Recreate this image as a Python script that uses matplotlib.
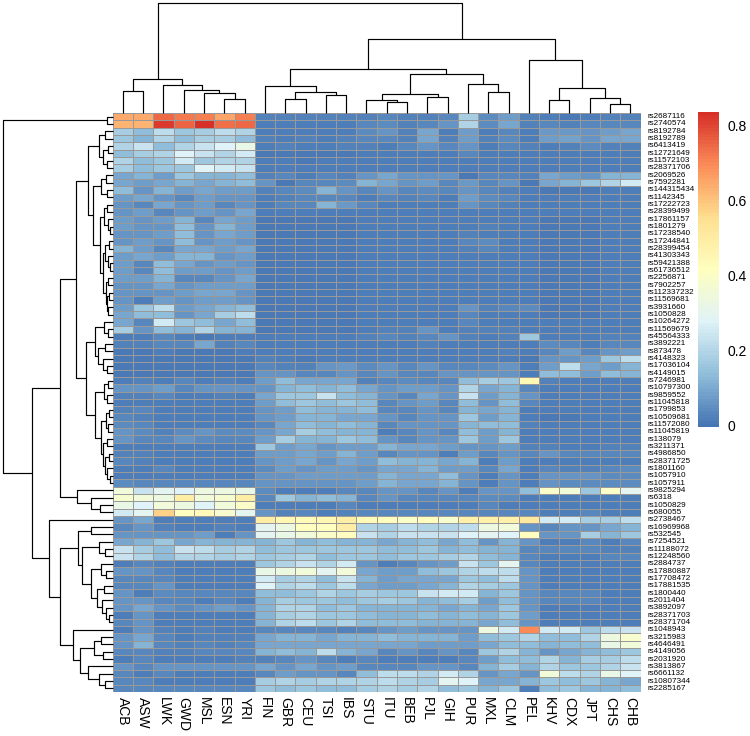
import numpy as np
import matplotlib
matplotlib.use("Agg")
import matplotlib.pyplot as plt
from matplotlib.colors import LinearSegmentedColormap
from matplotlib.transforms import blended_transform_factory

populations = ["ACB", "ASW", "LWK", "GWD", "MSL", "ESN", "YRI", "FIN", "GBR", "CEU",
               "TSI", "IBS", "STU", "ITU", "BEB", "PJL", "GIH", "PUR", "MXL", "CLM",
               "PEL", "KHV", "CDX", "JPT", "CHS", "CHB"]

snps = ["rs2687116", "rs2740574", "rs8192784", "rs8192789", "rs6413419", "rs12721649",
        "rs11572103", "rs28371706", "rs2069526", "rs7592281", "rs144315434", "rs1142345",
        "rs17222723", "rs28399499", "rs17861157", "rs1801279", "rs17238540", "rs17244841",
        "rs28399454", "rs41303343", "rs59421388", "rs61736512", "rs2256871", "rs7902257",
        "rs112337232", "rs11569681", "rs3931660", "rs1050828", "rs10264272", "rs11569679",
        "rs45564333", "rs3892221", "rs873478", "rs4148323", "rs17036104", "rs4149015",
        "rs7246981", "rs10797300", "rs9859552", "rs11045818", "rs1799853", "rs10509681",
        "rs11572080", "rs11045819", "rs138079", "rs3211371", "rs4986850", "rs28371725",
        "rs1801160", "rs1057910", "rs1057911", "rs9825294", "rs6318", "rs1050829",
        "rs680055", "rs2738467", "rs16969968", "rs532545", "rs7254521", "rs11188072",
        "rs12248560", "rs2884737", "rs17880887", "rs17708472", "rs17881535", "rs1800440",
        "rs2011404", "rs3892097", "rs28371703", "rs28371704", "rs1048943", "rs3215983",
        "rs4646491", "rs4149056", "rs2031920", "rs3813867", "rs6661132", "rs10807344",
        "rs2285167"]

values = [
 [.65,.65,.75,.73,.72,.66,.72,.03,.03,.03,.03,.03,.03,.04,.03,.03,.04,.18,.05,.08,.03,.02,.01,.02,.03,.03],
 [.63,.63,.82,.76,.84,.74,.75,.02,.02,.02,.02,.02,.04,.05,.03,.04,.06,.20,.05,.10,.03,.04,.03,.04,.04,.04],
 [.18,.14,.22,.16,.18,.22,.20,.02,.02,.02,.02,.02,.05,.06,.03,.10,.02,.08,.02,.04,.02,.07,.07,.06,.08,.10],
 [.16,.12,.20,.14,.18,.18,.14,.03,.02,.03,.02,.03,.04,.04,.03,.10,.03,.08,.03,.05,.02,.08,.09,.06,.10,.10],
 [.20,.24,.14,.20,.24,.28,.32,.02,.03,.02,.02,.03,.03,.02,.04,.06,.04,.06,.02,.04,.03,.02,.03,.05,.03,.03],
 [.14,.18,.20,.28,.24,.20,.26,.01,.01,.01,.01,.01,.02,.02,.02,.02,.02,.04,.02,.02,.02,.02,.02,.02,.02,.02],
 [.20,.14,.16,.26,.16,.20,.20,.02,.02,.01,.02,.02,.02,.02,.02,.02,.02,.02,.02,.02,.02,.02,.02,.02,.02,.02],
 [.18,.14,.16,.16,.28,.26,.24,.02,.02,.02,.02,.02,.02,.02,.02,.02,.02,.02,.02,.02,.02,.02,.02,.02,.02,.02],
 [.10,.12,.08,.16,.12,.12,.14,.03,.04,.02,.04,.03,.06,.10,.06,.06,.06,.01,.04,.04,.03,.10,.08,.06,.12,.12],
 [.10,.08,.10,.12,.10,.12,.14,.06,.01,.04,.04,.05,.12,.10,.06,.08,.04,.07,.04,.06,.01,.10,.12,.16,.20,.26],
 [.14,.06,.12,.08,.10,.08,.08,.03,.04,.05,.12,.06,.04,.06,.04,.05,.04,.06,.04,.03,.02,.01,.01,.01,.02,.02],
 [.08,.10,.06,.04,.08,.06,.06,.02,.03,.04,.04,.04,.02,.04,.03,.04,.02,.08,.05,.04,.02,.02,.02,.02,.02,.02],
 [.06,.04,.10,.06,.08,.04,.06,.02,.04,.04,.12,.07,.04,.02,.02,.02,.02,.06,.04,.03,.02,.02,.02,.02,.02,.02],
 [.06,.08,.04,.06,.08,.06,.10,.02,.02,.02,.02,.02,.02,.02,.02,.02,.02,.02,.02,.02,.02,.02,.02,.02,.02,.02],
 [.08,.06,.08,.12,.04,.10,.08,.01,.01,.01,.01,.01,.02,.02,.02,.02,.02,.02,.02,.02,.02,.01,.01,.01,.02,.02],
 [.08,.06,.06,.14,.06,.12,.08,.01,.01,.01,.01,.01,.02,.02,.02,.02,.02,.02,.03,.02,.02,.01,.01,.01,.02,.02],
 [.06,.06,.08,.14,.06,.10,.08,.01,.01,.01,.01,.01,.02,.02,.02,.02,.02,.03,.02,.02,.02,.01,.01,.01,.02,.02],
 [.06,.08,.06,.14,.06,.08,.06,.01,.01,.01,.01,.01,.02,.02,.02,.02,.02,.04,.05,.02,.02,.01,.01,.01,.02,.02],
 [.12,.08,.04,.10,.10,.08,.10,.01,.01,.01,.01,.01,.02,.02,.02,.02,.02,.03,.04,.02,.02,.01,.01,.01,.02,.02],
 [.08,.10,.08,.12,.12,.06,.08,.01,.01,.01,.01,.01,.02,.02,.02,.02,.02,.02,.02,.02,.02,.01,.01,.01,.02,.02],
 [.08,.04,.14,.10,.06,.08,.06,.01,.01,.01,.01,.01,.02,.02,.02,.02,.02,.02,.02,.02,.02,.01,.01,.01,.02,.02],
 [.08,.04,.14,.08,.08,.06,.08,.01,.01,.01,.01,.01,.02,.02,.02,.02,.02,.02,.02,.02,.02,.01,.01,.01,.02,.02],
 [.08,.08,.12,.04,.04,.06,.10,.01,.01,.01,.01,.01,.02,.02,.02,.02,.02,.02,.02,.02,.02,.01,.01,.01,.02,.02],
 [.06,.06,.10,.06,.08,.08,.08,.01,.01,.01,.01,.01,.02,.02,.02,.02,.02,.02,.02,.02,.02,.01,.01,.01,.02,.02],
 [.06,.06,.06,.08,.10,.10,.06,.01,.01,.01,.01,.01,.02,.02,.02,.02,.02,.02,.02,.02,.02,.01,.01,.01,.02,.02],
 [.06,.02,.08,.06,.08,.08,.06,.01,.01,.01,.01,.01,.02,.02,.02,.02,.02,.02,.02,.02,.02,.01,.01,.01,.02,.02],
 [.08,.16,.22,.08,.10,.12,.14,.01,.01,.01,.01,.01,.02,.02,.02,.02,.02,.06,.03,.04,.05,.01,.01,.01,.02,.02],
 [.10,.14,.14,.06,.10,.18,.22,.01,.01,.01,.01,.01,.02,.02,.02,.02,.02,.04,.02,.02,.02,.01,.01,.01,.02,.02],
 [.10,.04,.26,.16,.14,.10,.14,.01,.01,.01,.01,.01,.02,.02,.02,.02,.02,.04,.02,.02,.02,.02,.02,.02,.02,.02],
 [.18,.06,.14,.12,.20,.12,.12,.01,.01,.01,.01,.01,.02,.03,.03,.06,.02,.03,.03,.03,.02,.02,.02,.02,.02,.02],
 [.02,.02,.04,.02,.01,.02,.02,.02,.02,.02,.02,.02,.03,.04,.03,.04,.06,.03,.02,.03,.16,.02,.02,.02,.03,.03],
 [.03,.03,.04,.04,.10,.03,.04,.02,.02,.02,.02,.02,.02,.02,.02,.03,.02,.02,.02,.02,.02,.05,.04,.02,.04,.04],
 [.01,.01,.02,.01,.01,.01,.02,.02,.02,.02,.02,.02,.02,.02,.02,.02,.02,.02,.02,.03,.02,.04,.08,.04,.06,.08],
 [.01,.01,.01,.01,.01,.01,.01,.03,.02,.01,.02,.02,.02,.02,.02,.02,.02,.02,.02,.02,.01,.06,.06,.08,.16,.22],
 [.01,.01,.01,.01,.01,.01,.01,.04,.03,.03,.06,.07,.05,.06,.04,.06,.04,.04,.05,.06,.02,.08,.22,.10,.08,.12],
 [.01,.01,.01,.01,.01,.01,.01,.06,.06,.04,.04,.06,.04,.06,.04,.04,.06,.06,.06,.06,.02,.14,.14,.08,.14,.12],
 [.02,.03,.02,.04,.02,.03,.02,.08,.14,.10,.10,.10,.03,.04,.05,.04,.04,.14,.18,.16,.45,.03,.02,.02,.02,.02],
 [.06,.06,.08,.04,.06,.06,.06,.06,.12,.14,.12,.14,.10,.06,.08,.08,.06,.20,.10,.12,.04,.02,.02,.02,.02,.02],
 [.03,.03,.04,.02,.02,.03,.02,.10,.16,.16,.24,.14,.12,.06,.04,.10,.06,.24,.08,.12,.06,.02,.02,.02,.02,.02],
 [.02,.02,.02,.02,.02,.02,.02,.08,.14,.16,.14,.16,.14,.04,.06,.08,.04,.14,.06,.14,.04,.02,.02,.02,.02,.02],
 [.03,.04,.02,.02,.02,.02,.02,.06,.08,.14,.12,.12,.14,.04,.04,.06,.04,.12,.10,.12,.02,.02,.02,.02,.02,.02],
 [.04,.03,.02,.02,.02,.02,.02,.06,.08,.12,.12,.10,.10,.06,.04,.06,.06,.16,.08,.12,.02,.01,.01,.02,.02,.02],
 [.05,.04,.02,.02,.02,.02,.02,.04,.10,.14,.12,.14,.12,.04,.06,.06,.06,.12,.14,.14,.03,.02,.02,.02,.02,.02],
 [.06,.05,.03,.05,.06,.05,.05,.06,.10,.18,.14,.12,.12,.02,.04,.06,.04,.14,.08,.12,.02,.02,.02,.02,.02,.02],
 [.06,.04,.04,.06,.05,.04,.04,.08,.18,.12,.12,.16,.14,.06,.04,.06,.06,.16,.08,.16,.02,.02,.02,.02,.02,.02],
 [.02,.02,.02,.02,.02,.02,.02,.16,.08,.10,.06,.08,.08,.12,.10,.10,.08,.06,.06,.08,.03,.03,.02,.02,.03,.03],
 [.03,.03,.02,.02,.02,.02,.02,.08,.08,.10,.08,.12,.08,.04,.06,.06,.02,.08,.04,.06,.04,.06,.04,.04,.04,.04],
 [.04,.03,.02,.02,.02,.02,.02,.06,.08,.10,.06,.10,.08,.14,.12,.12,.10,.12,.02,.08,.02,.02,.02,.02,.02,.02],
 [.02,.02,.04,.02,.02,.02,.02,.05,.08,.06,.08,.08,.06,.10,.10,.12,.08,.08,.04,.10,.02,.04,.03,.03,.04,.05],
 [.02,.02,.02,.02,.02,.02,.02,.06,.06,.08,.08,.08,.08,.12,.10,.10,.14,.06,.02,.06,.02,.06,.06,.06,.05,.05],
 [.05,.04,.04,.04,.04,.04,.04,.06,.06,.06,.06,.06,.08,.12,.10,.10,.12,.06,.02,.06,.02,.06,.05,.05,.05,.05],
 [.36,.24,.30,.28,.34,.34,.32,.05,.02,.02,.02,.04,.04,.06,.06,.04,.06,.02,.06,.06,.14,.40,.36,.16,.40,.30],
 [.38,.36,.34,.50,.36,.38,.50,.04,.16,.12,.14,.12,.04,.06,.04,.04,.04,.04,.05,.05,.02,.02,.02,.02,.02,.02],
 [.32,.28,.36,.34,.28,.36,.40,.02,.02,.02,.02,.04,.02,.02,.02,.02,.02,.02,.04,.02,.02,.02,.02,.02,.02,.02],
 [.26,.30,.58,.42,.44,.38,.30,.06,.03,.04,.02,.03,.04,.04,.04,.04,.04,.04,.04,.04,.04,.02,.02,.04,.02,.02],
 [.06,.10,.02,.02,.02,.02,.02,.50,.46,.44,.46,.50,.44,.42,.40,.42,.38,.48,.48,.48,.52,.26,.26,.18,.18,.22],
 [.04,.06,.03,.02,.02,.03,.02,.30,.34,.42,.42,.50,.20,.18,.22,.20,.20,.22,.34,.36,.06,.04,.06,.06,.10,.12],
 [.06,.06,.06,.06,.08,.02,.06,.30,.32,.36,.40,.42,.24,.20,.24,.24,.24,.28,.30,.28,.42,.06,.06,.18,.12,.16],
 [.10,.12,.16,.10,.12,.12,.12,.12,.16,.12,.14,.12,.12,.10,.12,.14,.10,.14,.06,.12,.06,.02,.02,.04,.02,.04],
 [.24,.18,.14,.24,.22,.18,.20,.14,.16,.16,.16,.16,.16,.14,.14,.16,.12,.14,.12,.12,.04,.04,.04,.04,.03,.03],
 [.24,.20,.14,.20,.20,.18,.20,.16,.18,.20,.14,.16,.16,.14,.16,.16,.18,.20,.14,.12,.04,.02,.02,.02,.04,.04],
 [.02,.04,.03,.02,.02,.02,.02,.16,.20,.24,.20,.26,.06,.02,.04,.06,.08,.24,.16,.30,.04,.02,.02,.02,.02,.02],
 [.06,.06,.04,.02,.02,.02,.02,.32,.34,.36,.30,.36,.10,.08,.08,.14,.16,.20,.22,.22,.06,.02,.02,.02,.02,.02],
 [.04,.04,.04,.02,.02,.02,.02,.26,.18,.20,.14,.24,.12,.08,.10,.10,.10,.16,.14,.22,.06,.02,.02,.02,.02,.02],
 [.04,.04,.06,.02,.02,.02,.02,.28,.20,.22,.16,.22,.10,.08,.08,.10,.12,.20,.18,.16,.06,.02,.02,.02,.02,.02],
 [.06,.02,.05,.04,.04,.04,.04,.14,.14,.16,.20,.16,.18,.16,.16,.24,.26,.26,.12,.16,.06,.04,.04,.04,.02,.02],
 [.06,.06,.04,.04,.02,.04,.02,.12,.18,.16,.16,.14,.16,.18,.16,.12,.14,.18,.08,.14,.06,.04,.04,.04,.02,.02],
 [.06,.10,.06,.05,.06,.08,.06,.12,.20,.20,.14,.16,.12,.12,.12,.12,.10,.12,.10,.16,.06,.02,.02,.02,.02,.02],
 [.02,.06,.02,.02,.02,.02,.02,.12,.18,.20,.16,.16,.14,.12,.12,.14,.12,.14,.12,.16,.08,.02,.02,.02,.02,.02],
 [.04,.06,.02,.02,.02,.02,.02,.12,.20,.22,.16,.20,.14,.14,.14,.12,.12,.12,.10,.14,.06,.02,.02,.02,.02,.02],
 [.02,.06,.03,.02,.03,.02,.02,.04,.04,.04,.04,.03,.04,.06,.08,.06,.06,.06,.34,.26,.70,.26,.26,.16,.22,.24],
 [.06,.10,.04,.02,.03,.03,.03,.10,.12,.12,.10,.12,.12,.14,.12,.12,.12,.08,.14,.16,.20,.14,.14,.20,.34,.38],
 [.06,.12,.04,.03,.04,.03,.04,.10,.10,.10,.10,.10,.10,.10,.10,.08,.08,.08,.10,.14,.14,.12,.14,.14,.32,.36],
 [.04,.04,.03,.03,.04,.04,.04,.12,.14,.12,.22,.12,.10,.04,.06,.04,.06,.04,.16,.20,.12,.06,.10,.12,.14,.16],
 [.02,.04,.02,.02,.02,.02,.03,.03,.04,.06,.04,.02,.04,.02,.02,.02,.02,.04,.08,.14,.14,.20,.12,.18,.18,.22],
 [.06,.04,.06,.06,.06,.06,.06,.10,.06,.10,.06,.08,.04,.04,.04,.06,.06,.04,.12,.18,.12,.20,.16,.16,.20,.24],
 [.04,.02,.04,.02,.02,.02,.02,.04,.08,.06,.06,.04,.14,.22,.22,.20,.26,.20,.06,.10,.06,.36,.22,.20,.32,.28],
 [.04,.04,.02,.02,.02,.02,.02,.18,.20,.18,.20,.20,.20,.22,.20,.18,.30,.28,.10,.10,.12,.16,.14,.16,.12,.10],
 [.04,.04,.04,.04,.04,.04,.04,.16,.14,.16,.14,.14,.18,.20,.18,.20,.14,.16,.12,.16,.02,.14,.16,.12,.12,.14],
]

# Dendrogram trees: [merge height, left, right]; leaves are indices into the lists above
col_tree = [110,
            [34, [22, 0, 1], [28, 2, [23, 3, [20, 4, [14, 5, 6]]]]],
            [74,
             [44, [27, 7, [21, [14, 8, 9], [18, 10, 11]]],
                  [39, [19, [12.5, 12, [11, 13, 14]], [16, 15, 16]], [29, 17, [21, 18, 19]]]],
             [53, 20, [25, [12.7, 21, 22], [15.4, 23, [9.4, 24, 25]]]]]]

g2_7 = [14, [8, 2, 3], [10, [5, 4, 5], [6, 6, 7]]]
g8_11 = [12, [7, 8, 9], [6, 10, 11]]
g12_27 = [13, [9, [6, 12, 13], [5, 14, [3, 15, 16]]],
          [10, [8, [4, 17, 18], [5, 19, [3, 20, 21]]],
               [7, [5, 22, 23], [6, [4, 24, 25], [5, 26, 27]]]]]
A1u = [25, g2_7, [20, g8_11, g12_27]]
A1l = [27, [18, [9, 28, [5, 29, 30]], [15, [8, 31, 32], [10, 33, [6, 34, 35]]]],
           [18, [9, [5, 36, 37], [6, 38, 39]],
                [12, [7, [4, 40, 41], [5, 42, 43]],
                     [10, [6, 44, 45], [8, [4, 46, 47], [6, 48, [3, 49, 50]]]]]]]
A2 = [36, 51, [22, 52, [13, 53, 54]]]
B1a = [35, [22, 56, 57], [31, [14, 58, [8, 59, 60]],
                          [22, [12, 61, [7, 62, 63]],
                               [16, [9, 64, 65], [11, 66, [7, 67, [4, 68, 69]]]]]]]
B1b = [40, 70, [33, [19, [12, 71, 72], [10, 73, 74]], [25, 75, [14, 76, [8, 77, 78]]]]]
row_tree = [109.4, [6, 0, 1],
            [81, [53, [37, A1u, A1l], A2], [64, 55, [53, B1a, B1b]]]]

data = np.array(values)
nrow, ncol = data.shape
vmin, vmax = 0.0, data.max()

pal = ["#4575B4", "#91BFDB", "#E0F3F8", "#FFFFBF", "#FEE090", "#FC8D59", "#D73027"]
cmap = LinearSegmentedColormap.from_list("rdylbu_rev", pal, N=100)

W, H = 750, 736
fig = plt.figure(figsize=(W / 100, H / 100), dpi=100)
fig.patch.set_facecolor("white")


def ax_px(x0, y0, x1, y1):
    a = fig.add_axes([x0 / W, 1 - y1 / H, (x1 - x0) / W, (y1 - y0) / H])
    a.set_axis_off()
    return a


HX0, HX1, HY0, HY1 = 112.7, 640.5, 113.0, 692.0

# Heatmap
ax = ax_px(HX0, HY0, HX1, HY1)
ax.pcolormesh(np.arange(ncol + 1), np.arange(nrow + 1), data, cmap=cmap,
              vmin=vmin, vmax=vmax, edgecolors="#999999", linewidth=0.6)
ax.set_xlim(0, ncol)
ax.set_ylim(nrow, 0)

font = "Liberation Sans"
tr_row = blended_transform_factory(fig.transFigure, ax.transData)
for i, s in enumerate(snps):
    ax.text(647 / W, i + 0.5, s, transform=tr_row, fontsize=5.9, family=font,
            ha="left", va="center")
tr_col = blended_transform_factory(ax.transData, fig.transFigure)
for j, p in enumerate(populations):
    ax.text(j + 0.5, 1 - 697 / H, p, transform=tr_col, fontsize=10, family=font,
            rotation=270, ha="center", va="top")


def draw_tree(a, node, orient):
    if isinstance(node, int):
        return node + 0.5, 0.0
    h, l, r = node
    pl, hl = draw_tree(a, l, orient)
    pr, hr = draw_tree(a, r, orient)
    ps = [pl, pl, pr, pr]
    hs = [hl, h, h, hr]
    if orient == "col":
        a.plot(ps, hs, color="black", lw=0.85, solid_capstyle="butt", clip_on=False)
    else:
        a.plot(hs, ps, color="black", lw=0.85, solid_capstyle="butt", clip_on=False)
    return (pl + pr) / 2, h


# Column dendrogram
axc = ax_px(HX0, 2.7, HX1, HY0)
axc.set_xlim(0, ncol)
axc.set_ylim(0, HY0 - 2.7)
draw_tree(axc, col_tree, "col")

# Row dendrogram
axr = ax_px(0, HY0, HX0, HY1)
axr.set_xlim(HX0, 0)
axr.set_ylim(nrow, 0)
draw_tree(axr, row_tree, "row")

# Colour legend
LX0, LX1, LY1 = 698, 719, 427
px_per_unit = 375.0
LY0 = LY1 - vmax * px_per_unit
axl = ax_px(LX0, LY0, LX1, LY1)
axl.imshow(np.linspace(vmin, vmax, 100).reshape(-1, 1), cmap=cmap, vmin=vmin, vmax=vmax,
           aspect="auto", origin="lower", extent=[0, 1, vmin, vmax], interpolation="nearest")
axl.set_xlim(0, 1)
axl.set_ylim(vmin, vmax)
tr_leg = blended_transform_factory(fig.transFigure, axl.transData)
for t in [0, 0.2, 0.4, 0.6, 0.8]:
    axl.text(727 / W, t, "0" if t == 0 else f"{t:.1f}", transform=tr_leg, fontsize=10,
             family=font, ha="left", va="center")

fig.savefig("out.png", dpi=100, facecolor="white")
